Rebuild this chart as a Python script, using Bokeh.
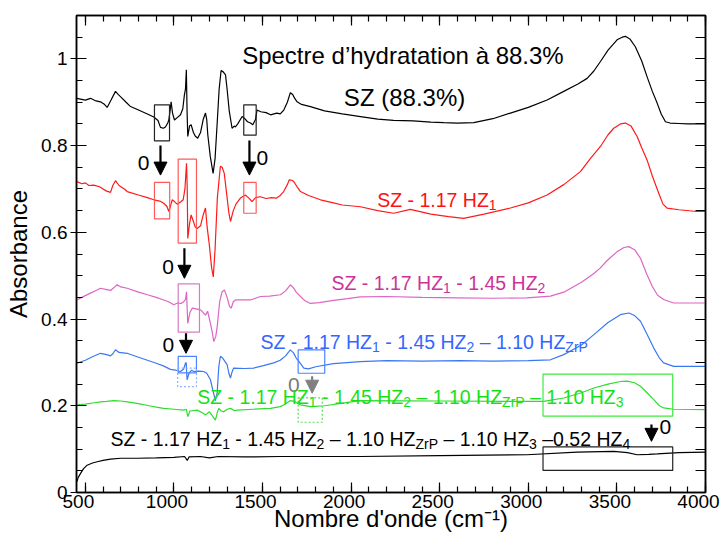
from bokeh.plotting import figure
from bokeh.models import (LinearAxis, FixedTicker, Label, Arrow, NormalHead,
                          Range1d, CustomJSTickFormatter)
from bokeh.embed import file_html
from bokeh.resources import INLINE

FONT = "Liberation Sans"

# ---------------- data ----------------
sz_wn = [452, 500, 529, 560, 585, 605, 623, 645, 670, 685, 698, 730, 755, 800, 850, 886, 910, 924,
         940, 952, 965, 971, 978, 984, 992, 1003, 1020, 1037, 1050, 1059, 1065, 1070, 1074, 1078,
         1088, 1097, 1110, 1120, 1134, 1150, 1165, 1178, 1185, 1191, 1205, 1221, 1232, 1244, 1255,
         1266, 1278, 1291, 1300, 1312, 1328, 1340, 1347, 1360, 1385, 1400, 1415, 1432, 1445, 1460,
         1469, 1490, 1520, 1545, 1580, 1600, 1620, 1640, 1657, 1670, 1680, 1695, 1720, 1770, 1850,
         1950, 2053, 2150, 2240, 2350, 2450, 2523, 2600, 2692, 2800, 2899, 3000, 3106, 3200, 3280,
         3332, 3370, 3407, 3450, 3501, 3530, 3548, 3575, 3604, 3640, 3670, 3700, 3727, 3750, 3774,
         3800, 3850, 3900, 3950, 4000]
sz_ab = [0.909, 0.905, 0.909, 0.903, 0.901, 0.896, 0.888, 0.905, 0.925, 0.918, 0.913, 0.900, 0.890,
         0.882, 0.873, 0.866, 0.858, 0.842, 0.840, 0.843, 0.852, 0.859, 0.880, 0.901, 0.875, 0.859,
         0.865, 0.871, 0.885, 0.917, 0.930, 0.975, 0.880, 0.821, 0.845, 0.848, 0.830, 0.822, 0.817,
         0.830, 0.860, 0.875, 0.860, 0.825, 0.775, 0.736, 0.770, 0.852, 0.930, 0.973, 0.970, 0.963,
         0.930, 0.880, 0.840, 0.845, 0.843, 0.850, 0.867, 0.862, 0.855, 0.852, 0.848, 0.860, 0.882,
         0.878, 0.876, 0.871, 0.875, 0.873, 0.882, 0.900, 0.922, 0.918, 0.910, 0.901, 0.895, 0.890,
         0.880, 0.873, 0.867, 0.861, 0.858, 0.857, 0.854, 0.853, 0.852, 0.853, 0.862, 0.875, 0.888,
         0.905, 0.925, 0.942, 0.955, 0.972, 0.994, 1.020, 1.044, 1.050, 1.052, 1.045, 1.028, 0.995,
         0.959, 0.925, 0.898, 0.873, 0.855, 0.852, 0.851, 0.850, 0.850, 0.850]

hz1_wn = [452, 480, 500, 520, 547, 580, 600, 620, 642, 655, 670, 690, 720, 736, 800, 850, 886, 920,
          942, 960, 971, 980, 990, 1000, 1018, 1037, 1052, 1062, 1071, 1075, 1078, 1088, 1097, 1110,
          1120, 1131, 1150, 1165, 1178, 1187, 1200, 1212, 1222, 1232, 1245, 1262, 1272, 1284, 1300,
          1310, 1319, 1335, 1350, 1375, 1403, 1420, 1441, 1460, 1488, 1520, 1550, 1579, 1600, 1619,
          1640, 1651, 1665, 1676, 1695, 1714, 1760, 1827, 1900, 1950, 2052, 2150, 2240, 2334, 2450,
          2550, 2635, 2750, 2899, 3000, 3106, 3200, 3294, 3350, 3407, 3450, 3482, 3520, 3548, 3580,
          3614, 3640, 3670, 3700, 3736, 3760, 3783, 3850, 3950, 4000]
hz1_ab = [0.717, 0.712, 0.714, 0.708, 0.709, 0.705, 0.700, 0.695, 0.692, 0.708, 0.719, 0.708, 0.700,
          0.694, 0.686, 0.680, 0.675, 0.672, 0.667, 0.660, 0.648, 0.660, 0.675, 0.672, 0.665, 0.670,
          0.675, 0.700, 0.759, 0.700, 0.586, 0.620, 0.640, 0.625, 0.612, 0.609, 0.615, 0.640, 0.656,
          0.613, 0.570, 0.520, 0.497, 0.560, 0.680, 0.752, 0.750, 0.736, 0.680, 0.645, 0.625, 0.650,
          0.665, 0.679, 0.686, 0.680, 0.671, 0.680, 0.682, 0.678, 0.680, 0.679, 0.685, 0.694, 0.710,
          0.721, 0.720, 0.717, 0.705, 0.694, 0.685, 0.675, 0.668, 0.663, 0.659, 0.650, 0.644, 0.653,
          0.642, 0.636, 0.632, 0.642, 0.656, 0.668, 0.686, 0.710, 0.740, 0.770, 0.798, 0.825, 0.840,
          0.850, 0.852, 0.845, 0.821, 0.795, 0.767, 0.730, 0.690, 0.665, 0.656, 0.652, 0.648, 0.648]

hz2_wn = [452, 480, 520, 560, 585, 620, 642, 660, 679, 700, 736, 800, 850, 900, 942, 970, 999, 1020,
          1040, 1055, 1065, 1071, 1075, 1078, 1090, 1103, 1120, 1150, 1165, 1178, 1190, 1206, 1216,
          1225, 1236, 1244, 1258, 1272, 1285, 1300, 1313, 1323, 1335, 1347, 1400, 1432, 1460, 1488,
          1540, 1601, 1630, 1657, 1675, 1690, 1714, 1740, 1770, 1820, 1900, 1980, 2052, 2200, 2400,
          2600, 2800, 2992, 3125, 3200, 3300, 3370, 3407, 3445, 3500, 3540, 3567, 3600, 3633, 3670,
          3700, 3730, 3764, 3820, 3900, 4000]
hz2_ab = [0.444, 0.450, 0.458, 0.466, 0.471, 0.468, 0.466, 0.472, 0.479, 0.474, 0.471, 0.462, 0.456,
          0.450, 0.444, 0.440, 0.433, 0.437, 0.436, 0.440, 0.445, 0.463, 0.420, 0.390, 0.415, 0.425,
          0.424, 0.421, 0.415, 0.409, 0.418, 0.390, 0.370, 0.348, 0.360, 0.382, 0.440, 0.463, 0.467,
          0.450, 0.430, 0.425, 0.440, 0.444, 0.444, 0.444, 0.448, 0.452, 0.453, 0.456, 0.465, 0.479,
          0.472, 0.462, 0.452, 0.442, 0.436, 0.438, 0.443, 0.447, 0.451, 0.452, 0.450, 0.449, 0.448,
          0.449, 0.453, 0.462, 0.485, 0.505, 0.518, 0.535, 0.555, 0.565, 0.567, 0.560, 0.540, 0.502,
          0.475, 0.455, 0.445, 0.437, 0.437, 0.437]

zrp_wn = [452, 500, 540, 585, 620, 642, 655, 670, 690, 736, 800, 850, 900, 940, 980, 1010, 1037,
          1055, 1065, 1069, 1074, 1085, 1100, 1112, 1140, 1168, 1185, 1206, 1220, 1234, 1244, 1253,
          1262, 1275, 1300, 1310, 1319, 1328, 1337, 1400, 1450, 1500, 1563, 1600, 1630, 1657, 1675,
          1690, 1704, 1733, 1760, 1800, 1900, 2052, 2200, 2400, 2616, 2800, 3000, 3125, 3200, 3300,
          3370, 3450, 3520, 3567, 3600, 3633, 3670, 3708, 3740, 3764, 3820, 3900, 4000]
zrp_ab = [0.298, 0.305, 0.313, 0.321, 0.318, 0.315, 0.320, 0.329, 0.323, 0.321, 0.312, 0.305, 0.298,
          0.292, 0.284, 0.282, 0.279, 0.285, 0.298, 0.300, 0.260, 0.275, 0.282, 0.279, 0.280, 0.279,
          0.275, 0.260, 0.235, 0.212, 0.230, 0.290, 0.314, 0.310, 0.295, 0.275, 0.264, 0.278, 0.287,
          0.286, 0.287, 0.292, 0.299, 0.305, 0.315, 0.329, 0.322, 0.310, 0.303, 0.287, 0.285, 0.290,
          0.297, 0.302, 0.304, 0.303, 0.304, 0.303, 0.304, 0.306, 0.318, 0.340, 0.364, 0.392, 0.410,
          0.414, 0.408, 0.395, 0.365, 0.333, 0.310, 0.299, 0.291, 0.291, 0.291]

hz3_wn = [452, 500, 550, 585, 620, 660, 700, 736, 800, 860, 900, 942, 1000, 1055, 1070, 1078, 1090,
          1131, 1160, 1178, 1200, 1215, 1234, 1245, 1253, 1268, 1281, 1300, 1319, 1340, 1357, 1450,
          1545, 1600, 1630, 1657, 1680, 1714, 1770, 1850, 2052, 2500, 3087, 3200, 3300, 3370, 3450,
          3520, 3558, 3600, 3633, 3670, 3708, 3740, 3764, 3820, 4000]
hz3_ab = [0.202, 0.204, 0.207, 0.209, 0.210, 0.212, 0.211, 0.209, 0.205, 0.200, 0.197, 0.194, 0.192,
          0.190, 0.192, 0.175, 0.188, 0.190, 0.184, 0.179, 0.186, 0.178, 0.167, 0.185, 0.194, 0.188,
          0.186, 0.192, 0.194, 0.189, 0.190, 0.192, 0.194, 0.198, 0.204, 0.212, 0.210, 0.202, 0.198,
          0.200, 0.212, 0.211, 0.210, 0.218, 0.230, 0.241, 0.250, 0.256, 0.257, 0.253, 0.245, 0.230,
          0.214, 0.200, 0.195, 0.192, 0.191]

hz4_wn = [452, 460, 473, 490, 510, 540, 567, 600, 642, 700, 792, 900, 1000, 1060, 1075, 1085, 1150,
          1200, 1250, 1400, 1600, 1770, 2052, 2500, 2992, 3275, 3482, 3560, 3614, 3680, 3727, 3850,
          4000]
hz4_ab = [0.025, 0.035, 0.044, 0.055, 0.063, 0.068, 0.071, 0.074, 0.077, 0.079, 0.079, 0.080, 0.081,
          0.083, 0.074, 0.082, 0.083, 0.080, 0.083, 0.082, 0.083, 0.083, 0.083, 0.085, 0.087, 0.093,
          0.095, 0.092, 0.087, 0.088, 0.089, 0.092, 0.093]

x_ticks = [500, 1000, 1500, 2000, 2500, 3000, 3500, 4000]
x_tick_labels = ["500", "1000", "1500", "2000", "2500", "3000", "3500", "4000"]
x_minor = list(range(500, 4001, 100))
y_ticks = [0, 0.2, 0.4, 0.6, 0.8, 1.0]
y_tick_labels = ["0", "0.2", "0.4", "0.6", "0.8", "1"]
y_minor = [round(0.05 * i, 2) for i in range(0, 23)]

# annotation boxes (left, right, bottom, top) in data units
box_solid_l = [890, 1394, 890, 1024, 1394, 1024, 1024, 1701, 3083, 3083]
box_solid_r = [975, 1464, 976, 1127, 1464, 1144, 1127, 1851, 3815, 3815]
box_solid_b = [0.811, 0.824, 0.631, 0.575, 0.644, 0.370, 0.276, 0.275, 0.176, 0.051]
box_solid_t = [0.894, 0.894, 0.715, 0.769, 0.715, 0.481, 0.314, 0.329, 0.273, 0.105]
box_solid_c = ["#222222", "#222222", "#ff5a5a", "#ff5a5a", "#ff5a5a", "#d77cc4", "#4d84ff",
               "#4d84ff", "#3fea3f", "#222222"]
box_dot_l = [1021, 1701]
box_dot_r = [1127, 1837]
box_dot_b = [0.244, 0.162]
box_dot_t = [0.287, 0.218]
box_dot_c = ["#8fb0ff", "#55dd55"]

# arrows (x, y_start, y_end) and their "0" marks (x, y)
arrow_x = [924, 1426, 1059, 1068, 1780, 3695]
arrow_y0 = [0.800, 0.812, 0.563, 0.367, 0.268, 0.157]
arrow_y1 = [0.732, 0.732, 0.494, 0.321, 0.229, 0.118]
arrow_c = ["black", "black", "black", "black", "#808080", "black"]
zero_x = [828, 1499, 967, 969, 1676, 3773]
zero_y = [0.760, 0.772, 0.521, 0.341, 0.248, 0.151]
zero_c = ["black", "black", "black", "black", "#7a7a7a", "black"]

X_LO, X_HI = 450, 4000
FRAME_W = 629
LABEL_SHIFT_PX = 7          # the original draws its x tick labels a little left of the ticks
shift = LABEL_SHIFT_PX * (X_HI - X_LO) / FRAME_W

# ---------------- figure ----------------
p = figure(width=720, height=538, min_border_left=76, min_border_right=15,
           min_border_top=15, min_border_bottom=46,
           x_range=Range1d(X_LO, X_HI), y_range=Range1d(0, 1.1),
           output_backend="svg", toolbar_location=None)
p.extra_x_ranges = {"lab": Range1d(X_LO + shift, X_HI + shift)}
p.grid.visible = False
p.outline_line_color = "black"
p.outline_line_width = 1.5
p.background_fill_color = "white"
p.border_fill_color = "white"

xa = p.xaxis[0]
xa.ticker = FixedTicker(ticks=x_ticks, minor_ticks=x_minor)
xa.formatter = CustomJSTickFormatter(code="return ''")
xa.major_label_text_font_size = "0px"
xa.major_label_standoff = 0
xa.major_tick_in = 10
xa.major_tick_out = 0
xa.minor_tick_in = 6
xa.minor_tick_out = 0
xa.axis_line_width = 1.5
xa.major_tick_line_width = 1.2
xa.minor_tick_line_width = 1.2

# label-only axis carrying the x tick labels and the x title
xl = LinearAxis(x_range_name="lab", ticker=FixedTicker(ticks=x_ticks),
                major_label_overrides={t: l for t, l in zip(x_ticks, x_tick_labels)},
                major_label_text_font=FONT, major_label_text_font_size="19px",
                major_label_text_color="black", major_label_standoff=2,
                major_tick_in=0, major_tick_out=0, major_tick_line_color=None,
                minor_tick_line_color=None, axis_line_color=None,
                axis_label="Nombre d'onde (cm⁻¹)", axis_label_text_font=FONT,
                axis_label_text_font_size="24px", axis_label_text_font_style="normal",
                axis_label_text_color="black", axis_label_standoff=-6)
p.add_layout(xl, "below")

ya = p.yaxis[0]
ya.ticker = FixedTicker(ticks=y_ticks, minor_ticks=y_minor)
ya.major_label_overrides = {t: l for t, l in zip(y_ticks, y_tick_labels)}
ya.major_label_text_font = FONT
ya.major_label_text_font_size = "19px"
ya.major_label_text_color = "black"
ya.major_label_standoff = 3
ya.major_tick_in = 10
ya.major_tick_out = 6
ya.minor_tick_in = 6
ya.minor_tick_out = 0
ya.axis_line_width = 1.5
ya.major_tick_line_width = 1.2
ya.minor_tick_line_width = 1.2
ya.axis_label = "Absorbance"
ya.axis_label_text_font = FONT
ya.axis_label_text_font_size = "24px"
ya.axis_label_text_font_style = "normal"
ya.axis_label_text_color = "black"
ya.axis_label_standoff = 6

for loc in ("above", "right"):
    tk = FixedTicker(ticks=x_ticks, minor_ticks=x_minor) if loc == "above" else \
        FixedTicker(ticks=y_ticks, minor_ticks=y_minor)
    ax = LinearAxis(ticker=tk, formatter=CustomJSTickFormatter(code="return ''"),
                    major_label_text_font_size="0px", major_label_standoff=0,
                    major_tick_in=10, major_tick_out=0,
                    minor_tick_in=6 if loc == "above" else 10, minor_tick_out=0,
                    axis_line_width=1.5, major_tick_line_width=1.2, minor_tick_line_width=1.2)
    p.add_layout(ax, loc)

# ---------------- spectra ----------------
p.line(sz_wn, sz_ab, line_color="black", line_width=1.2)
p.line(hz1_wn, hz1_ab, line_color="#ff1a1a", line_width=1.2)
p.line(hz2_wn, hz2_ab, line_color="#dd66c4", line_width=1.2)
p.line(zrp_wn, zrp_ab, line_color="#3a78f2", line_width=1.2)
p.line(hz3_wn, hz3_ab, line_color="#2fdc2f", line_width=1.2)
p.line(hz4_wn, hz4_ab, line_color="black", line_width=1.2)

# ---------------- boxes ----------------
p.quad(left=box_solid_l, right=box_solid_r, bottom=box_solid_b, top=box_solid_t,
       fill_alpha=0, line_color=box_solid_c, line_width=1.2)
p.quad(left=box_dot_l, right=box_dot_r, bottom=box_dot_b, top=box_dot_t,
       fill_alpha=0, line_color=box_dot_c, line_width=1.2, line_dash="2 2")

# ---------------- arrows and zeros ----------------
for ax_, y0, y1, c in zip(arrow_x, arrow_y0, arrow_y1, arrow_c):
    p.add_layout(Arrow(x_start=ax_, y_start=y0, x_end=ax_, y_end=y1, line_color=c, line_width=2.2,
                       end=NormalHead(size=13, fill_color=c, line_color=c)))
for zx, zy, c in zip(zero_x, zero_y, zero_c):
    p.add_layout(Label(x=zx, y=zy, text="0", text_font=FONT, text_font_size="21px",
                       text_color=c, text_align="center", text_baseline="middle"))

# ---------------- texts ----------------
W = {' ': 278, 'S': 667, 'Z': 611, '-': 333, '1': 556, '.': 278, '7': 556, 'H': 722, '4': 556,
     '5': 556, '–': 556, '0': 556, '2': 556, '3': 556, 'r': 333, 'P': 667}


def tw(s, size):
    return sum(W.get(ch, 556) for ch in s) / 1000.0 * size


def rich(x, y, parts, color, size=19.5, small=14.0):
    off = 0.0
    for txt, kind in parts:
        sz = size if kind == "n" else small
        dy = -5 if kind == "s" else 0
        lead = len(txt) - len(txt.lstrip(' '))
        trail = len(txt) - len(txt.rstrip(' '))
        core = txt.strip(' ')
        off += lead * 0.278 * sz
        p.add_layout(Label(x=x, y=y, x_offset=off, y_offset=dy, text=core, text_font=FONT,
                           text_font_size=f"{sz}px", text_color=color,
                           text_align="left", text_baseline="alphabetic"))
        off += tw(core, sz) + trail * 0.278 * sz


p.add_layout(Label(x=1385, y=1.008, text="Spectre d’hydratation à 88.3%", text_font=FONT,
                   text_font_size="24px", text_color="black", text_baseline="alphabetic"))
p.add_layout(Label(x=1959, y=0.912, text="SZ (88.3%)", text_font=FONT,
                   text_font_size="24px", text_color="black", text_baseline="alphabetic"))

lab_red = [("SZ - 1.17 HZ", "n"), ("1", "s")]
lab_pink = lab_red + [(" - 1.45 HZ", "n"), ("2", "s")]
lab_blue = lab_pink + [(" – 1.10 HZ", "n"), ("ZrP", "s")]
lab_green = lab_blue + [(" – 1.10 HZ", "n"), ("3", "s")]
lab_black = lab_green + [(" –0.52 HZ", "n"), ("4", "s")]

rich(2147, 0.6734, lab_red, "#ff1010")
rich(1889, 0.482, lab_pink, "#cc3399")
rich(1488, 0.346, lab_blue, "#3366ff")
rich(1131, 0.2202, lab_green, "#18e018")
rich(642, 0.1241, lab_black, "black")

open("out.html", "w").write(file_html(p, INLINE))
